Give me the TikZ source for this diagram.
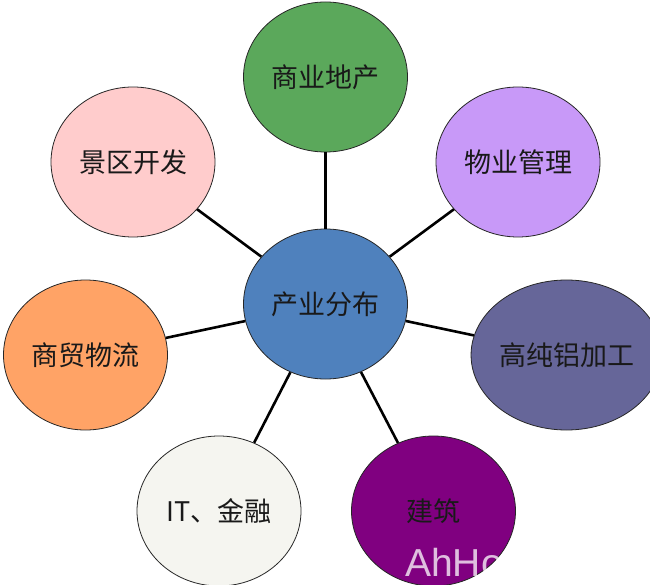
\documentclass[tikz,border=0pt]{standalone}
\usepackage{fontspec}
\newfontfamily\cjk{Noto Sans CJK SC}
\newfontfamily\wmfont{Liberation Sans}
\usetikzlibrary{shapes.geometric}
\definecolor{cgreen}{HTML}{5BA85B}
\definecolor{clilac}{HTML}{C899F8}
\definecolor{cslate}{HTML}{666699}
\definecolor{cplum}{HTML}{800080}
\definecolor{civory}{HTML}{F5F5F0}
\definecolor{corange}{HTML}{FFA366}
\definecolor{cpink}{HTML}{FFCCCC}
\definecolor{cblue}{HTML}{4F81BD}
\tikzset{
  bubble/.style={ellipse, draw=black!85, line width=0.8pt, minimum width=164pt,
    minimum height=150pt, inner sep=0pt, font=\cjk\fontsize{27}{27}\selectfont,
    text=black!90},
  link/.style={line width=2.6pt, black}
}
\begin{document}
\begin{tikzpicture}[x=1pt,y=-1pt]
\useasboundingbox (0,0) rectangle (650,585);
\node[bubble, fill=cblue]   (c)  at (325.5,304) {产业分布};
\node[bubble, fill=cgreen]  (n1) at (325.5,77)  {商业地产};
\node[bubble, fill=clilac]  (n2) at (518,162)   {物业管理};
\node[bubble, fill=cslate]  (n3) at (566.5,355) {高纯铝加工};
\node[bubble, fill=cplum]   (n4) at (433.5,511) {建筑};
\node[bubble, fill=civory]  (n5) at (219,511)   {IT、金融};
\node[bubble, fill=corange] (n6) at (85.5,355)  {商贸物流};
\node[bubble, fill=cpink]   (n7) at (133,162)   {景区开发};
\foreach \n in {n1,n2,n3,n4,n5,n6,n7} \draw[link] (c) -- (\n);
\node[text=white, opacity=0.75, font=\wmfont\fontsize{39}{39}\selectfont, anchor=base west, inner sep=0pt]
  (wm) at (405,576) {AhHo};
\end{tikzpicture}
\end{document}
